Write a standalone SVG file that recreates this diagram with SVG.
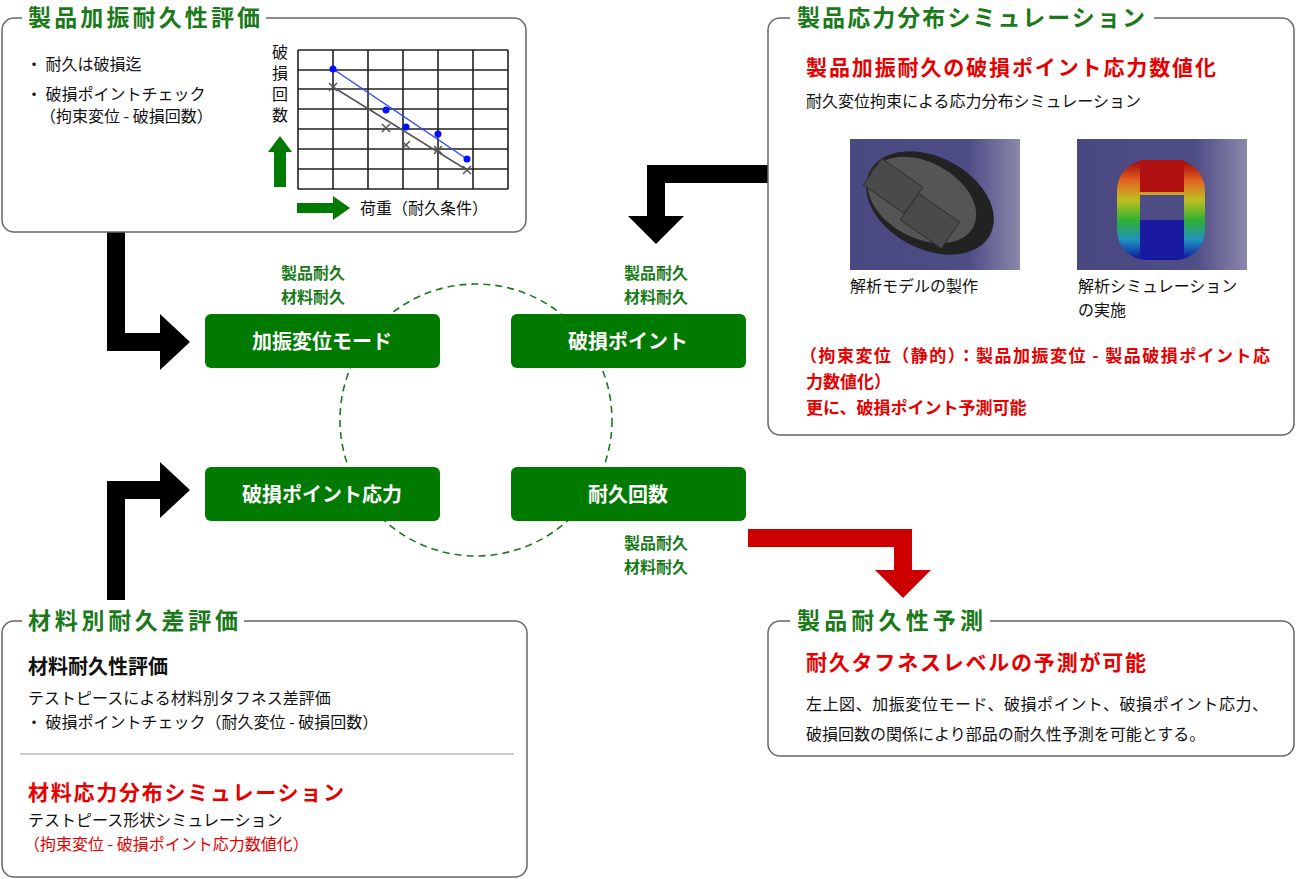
<svg xmlns="http://www.w3.org/2000/svg" width="1296" height="879" viewBox="0 0 1296 879">
<defs>
<style>
text{font-family:"Noto Sans CJK JP","Noto Sans",sans-serif}
.box{fill:#fff;stroke:#666;stroke-width:1.5}
.ttl{fill:#1a7a1a;font-size:23px;font-weight:bold}
.tbg{fill:#fff}
.btn{fill:#007a00}
.bt{fill:#fff;font-size:20px;font-weight:bold;text-anchor:middle}
.gl{fill:#1a7a1a;font-size:16px;font-weight:bold;text-anchor:middle}
.t{font-size:16px;fill:#111}
.red{fill:#e60000;font-weight:bold}
.rt{font-size:16px;fill:#e60000}
.grid{stroke:#222;stroke-width:1.6}
</style>
<linearGradient id="bg" x1="0" x2="1"><stop offset="0" stop-color="#4a4880"/><stop offset="0.7" stop-color="#4f4d86"/><stop offset="1" stop-color="#8a88aa"/></linearGradient>
<linearGradient id="rb" x1="0" y1="0" x2="0" y2="1"><stop offset="0" stop-color="#a00010"/><stop offset="0.2" stop-color="#e06020"/><stop offset="0.4" stop-color="#c0c020"/><stop offset="0.6" stop-color="#30b030"/><stop offset="0.8" stop-color="#2090c0"/><stop offset="1" stop-color="#1010a0"/></linearGradient>
</defs>
<g id="connectors">
<ellipse cx="476" cy="420" rx="136" ry="136" fill="none" stroke="#1a7a1a" stroke-width="1.6" stroke-dasharray="7,5"/>
<path d="M116 232V342H165" fill="none" stroke="#000" stroke-width="18"/>
<polygon points="160,314 190,342 160,370" fill="#000"/>
<path d="M116 600V490H165" fill="none" stroke="#000" stroke-width="18"/>
<polygon points="160,462 190,490 160,518" fill="#000"/>
<path d="M768 174H656V220" fill="none" stroke="#000" stroke-width="18"/>
<polygon points="628,216 684,216 656,244" fill="#000"/>
<path d="M748 538H903V575" fill="none" stroke="#cc0000" stroke-width="18"/>
<polygon points="875,570 931,570 903,598" fill="#cc0000"/>
</g>
<g id="n1">
<rect class="box" x="2" y="18" width="524" height="214" rx="12"/>
<rect class="tbg" x="22" y="4" width="244" height="28"/>
<text class="ttl" x="28" y="26" textLength="232">製品加振耐久性評価</text>
<text class="t" x="26" y="70">・ 耐久は破損迄</text>
<text class="t" x="26" y="100">・ 破損ポイントチェック</text>
<text class="t" x="40" y="122">（拘束変位 - 破損回数）</text>
<g class="grid">
<path d="M298 50V189M333 50V189M368 50V189M403 50V189M438 50V189M473 50V189M508 50V189M298 50H508M298 70H508M298 89H508M298 109H508M298 129H508M298 149H508M298 169H508M298 189H508"/>
</g>
<line x1="333" y1="69" x2="467" y2="159" stroke="#3344ff" stroke-width="1.5"/>
<line x1="333" y1="87" x2="467" y2="170" stroke="#555" stroke-width="1.5"/>
<g fill="#0010ff"><circle cx="333" cy="69" r="3.5"/><circle cx="386" cy="110" r="3.5"/><circle cx="406" cy="127" r="3.5"/><circle cx="438" cy="134" r="3.5"/><circle cx="467" cy="159" r="3.5"/></g>
<g stroke="#555" stroke-width="1.5"><path d="M329 83l8 8M337 83l-8 8M382 124l8 8M390 124l-8 8M402 141l8 8M410 141l-8 8M434 146l8 8M442 146l-8 8M463 166l8 8M471 166l-8 8"/></g>
<g class="t" font-size="14" text-anchor="middle"><text x="280" y="58">破</text><text x="280" y="79">損</text><text x="280" y="100">回</text><text x="280" y="121">数</text></g>
<polygon points="274,187 274,152 268,152 280,136 292,152 286,152 286,187" fill="#007a00"/>
<polygon points="297,203 333,203 333,196 350,208 333,220 333,213 297,213" fill="#007a00"/>
<text class="t" x="360" y="214">荷重（耐久条件）</text>
</g>
<g id="n2">
<rect class="box" x="768" y="18" width="526" height="417" rx="12"/>
<rect class="tbg" x="790" y="4" width="364" height="28"/>
<text class="ttl" x="797" y="26" textLength="348">製品応力分布シミュレーション</text>
<text class="red" x="806" y="75" font-size="21" textLength="410">製品加振耐久の破損ポイント応力数値化</text>
<text class="t" x="806" y="107">耐久変位拘束による応力分布シミュレーション</text>
<rect x="850" y="139" width="170" height="131" fill="url(#bg)"/>
<ellipse cx="930" cy="203" rx="68" ry="46" transform="rotate(28 930 203)" fill="#222"/>
<ellipse cx="922" cy="200" rx="58" ry="38" transform="rotate(28 922 200)" fill="#555"/>
<rect x="868" y="170" width="50" height="32" transform="rotate(35 893 186)" fill="#4a4a4a" stroke="#333"/>
<rect x="905" y="205" width="50" height="32" transform="rotate(35 930 221)" fill="#4a4a4a" stroke="#333"/>
<rect x="1077" y="139" width="170" height="131" fill="url(#bg)"/>
<rect x="1117" y="160" width="88" height="100" rx="30" fill="url(#rb)"/>
<rect x="1140" y="195" width="44" height="25" fill="#4f4d86"/>
<rect x="1140" y="160" width="44" height="32" fill="#b01010"/>
<rect x="1140" y="220" width="44" height="38" fill="#1a1aa0"/>
<text class="t" x="850" y="292">解析モデルの製作</text>
<text class="t" x="1078" y="292">解析シミュレーション</text>
<text class="t" x="1078" y="316">の実施</text>
<g class="red" font-size="17"><text x="800" y="362" textLength="470">（拘束変位（静的）：製品加振変位 - 製品破損ポイント応</text><text x="806" y="388">力数値化）</text><text x="806" y="414">更に、破損ポイント予測可能</text></g>
</g>
<g id="n3">
<rect class="box" x="2" y="621" width="525" height="256" rx="12"/>
<rect class="tbg" x="22" y="607" width="222" height="28"/>
<text class="ttl" x="28" y="629" textLength="210">材料別耐久差評価</text>
<text x="28" y="674" font-size="20" font-weight="bold" fill="#111">材料耐久性評価</text>
<text class="t" x="28" y="704">テストピースによる材料別タフネス差評価</text>
<text class="t" x="26" y="728">・ 破損ポイントチェック（耐久変位 - 破損回数）</text>
<line x1="20" y1="754" x2="514" y2="754" stroke="#999"/>
<text class="red" x="28" y="800" font-size="21" textLength="316">材料応力分布シミュレーション</text>
<text class="t" x="28" y="826">テストピース形状シミュレーション</text>
<text class="rt" x="24" y="850">（拘束変位 - 破損ポイント応力数値化）</text>
</g>
<g id="n4">
<rect class="box" x="768" y="621" width="526" height="135" rx="12"/>
<rect class="tbg" x="790" y="607" width="200" height="28"/>
<text class="ttl" x="797" y="629" textLength="186">製品耐久性予測</text>
<text class="red" x="806" y="670" font-size="21" textLength="340">耐久タフネスレベルの予測が可能</text>
<text class="t" x="806" y="710" textLength="462">左上図、加振変位モード、破損ポイント、破損ポイント応力、</text>
<text class="t" x="806" y="740">破損回数の関係により部品の耐久性予測を可能とする。</text>
</g>
<g id="b1"><rect class="btn" x="205" y="314" width="235" height="54" rx="6"/><text class="bt" x="322" y="349">加振変位モード</text></g>
<g id="b2"><rect class="btn" x="511" y="314" width="235" height="54" rx="6"/><text class="bt" x="628" y="349">破損ポイント</text></g>
<g id="b3"><rect class="btn" x="205" y="467" width="235" height="54" rx="6"/><text class="bt" x="322" y="502">破損ポイント応力</text></g>
<g id="b4"><rect class="btn" x="511" y="467" width="235" height="54" rx="6"/><text class="bt" x="628" y="502">耐久回数</text></g>
<g id="labels">
<text class="gl" x="313" y="279">製品耐久</text><text class="gl" x="313" y="303">材料耐久</text>
<text class="gl" x="656" y="279">製品耐久</text><text class="gl" x="656" y="303">材料耐久</text>
<text class="gl" x="656" y="549">製品耐久</text><text class="gl" x="656" y="573">材料耐久</text>
</g>
</svg>
